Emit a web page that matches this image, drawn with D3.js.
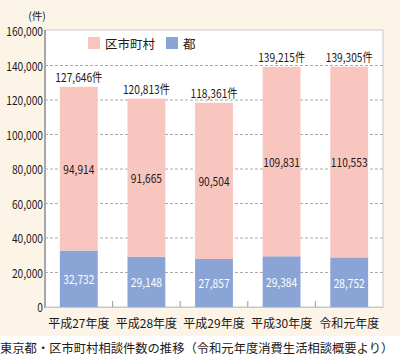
<!DOCTYPE html>
<html>
<head>
<meta charset="utf-8">
<script src="https://cdn.jsdelivr.net/npm/d3@7"></script>
<style>
  body { margin: 0; background: #fff; }
  text { font-family: "Noto Sans CJK JP", sans-serif; fill: #231815; }
</style>
</head>
<body>
<div id="chart"></div>
<script>
const categories = ["平成27年度", "平成28年度", "平成29年度", "平成30年度", "令和元年度"];
const cityValues = [94914, 91665, 90504, 109831, 110553];
const metroValues = [32732, 29148, 27857, 29384, 28752];
const totalValues = [127646, 120813, 118361, 139215, 139305];
const yTicks = [0, 20000, 40000, 60000, 80000, 100000, 120000, 140000, 160000];
const seriesNames = ["区市町村", "都"];

const W = 400, H = 358;
const plotLeft = 45, plotRight = 383, plotTop = 31, plotBottom = 307;
const pink = "#f8c6bf", blue = "#8aa4d6";
const fmt = d3.format(",");

const svg = d3.select("#chart").append("svg")
  .attr("width", W).attr("height", H);

// cream background
svg.append("rect").attr("width", W).attr("height", 336).attr("fill", "#fdf4e8");

const x = d3.scaleBand().domain(categories).range([plotLeft, plotRight])
  .paddingInner(0.44).paddingOuter(0.22);
const y = d3.scaleLinear().domain([0, 160000]).range([plotBottom, plotTop]);

// plot area
svg.append("rect").attr("x", plotLeft).attr("y", y(160000) - 1)
  .attr("width", plotRight - plotLeft).attr("height", plotBottom - y(160000) + 1)
  .attr("fill", "#fff").attr("stroke", "#c8c8c8");

// grid
svg.append("g").selectAll("line")
  .data(yTicks.filter(d => d > 0 && d < 160000))
  .join("line")
  .attr("x1", plotLeft).attr("x2", plotRight)
  .attr("y1", d => y(d)).attr("y2", d => y(d))
  .attr("stroke", "#aaa").attr("stroke-dasharray", "3,2");

// condensed number text helper
function numText(g, tx, ty, str, anchor, fill) {
  g.append("text")
    .attr("transform", `translate(${tx},${ty}) scale(0.85,1)`)
    .attr("text-anchor", anchor)
    .attr("dominant-baseline", "central")
    .attr("font-size", 12)
    .style("fill", fill || "#231815")
    .text(str);
}

// y tick labels
const yg = svg.append("g");
yTicks.forEach(t => numText(yg, 43, y(t), fmt(t), "end"));
svg.append("text").attr("x", 37).attr("y", 15).attr("text-anchor", "middle")
  .attr("dominant-baseline", "central").attr("font-size", 10.5).text("(件)");

// bars
const bars = svg.append("g");
bars.selectAll("rect.metro").data(categories).join("rect")
  .attr("x", d => x(d)).attr("width", x.bandwidth())
  .attr("y", (d, i) => y(metroValues[i]))
  .attr("height", (d, i) => y(0) - y(metroValues[i]))
  .attr("fill", blue);
bars.selectAll("rect.city").data(categories).join("rect")
  .attr("x", d => x(d)).attr("width", x.bandwidth())
  .attr("y", (d, i) => y(metroValues[i] + cityValues[i]))
  .attr("height", (d, i) => y(metroValues[i]) - y(metroValues[i] + cityValues[i]))
  .attr("fill", pink);

// labels
const lg = svg.append("g");
categories.forEach((c, i) => {
  const cx = x(c) + x.bandwidth() / 2;
  numText(lg, cx, y(metroValues[i] / 2), fmt(metroValues[i]), "middle", "#fff");
  numText(lg, cx, y(metroValues[i] + cityValues[i] / 2), fmt(cityValues[i]), "middle");
  numText(lg, cx, y(totalValues[i]) - 10, fmt(totalValues[i]) + "件", "middle");
});

// axes lines
svg.append("line").attr("x1", plotLeft).attr("x2", plotLeft).attr("y1", y(160000) - 1).attr("y2", plotBottom + 1)
  .attr("stroke", "#a8a8a8").attr("stroke-width", 2);
svg.append("line").attr("x1", plotLeft).attr("x2", plotRight).attr("y1", plotBottom + 0.5).attr("y2", plotBottom + 0.5)
  .attr("stroke", "#c8c8c8");
svg.append("g").selectAll("line").data(categories.slice(1)).join("line")
  .attr("x1", d => x(d) - x.step() * x.paddingInner() / 2)
  .attr("x2", d => x(d) - x.step() * x.paddingInner() / 2)
  .attr("y1", plotBottom - 6).attr("y2", plotBottom)
  .attr("stroke", "#999");

// x labels
svg.append("g").selectAll("text").data(categories).join("text")
  .attr("x", d => x(d) + x.bandwidth() / 2).attr("y", 322)
  .attr("text-anchor", "middle").attr("dominant-baseline", "central")
  .attr("font-size", 12).text(d => d);

// legend
const legend = svg.append("g");
[[88, pink], [166, blue]].forEach(([lx, col], i) => {
  legend.append("rect").attr("x", lx).attr("y", 37).attr("width", 12).attr("height", 12).attr("fill", col);
  legend.append("text").attr("x", lx + 17).attr("y", 43).attr("dominant-baseline", "central")
    .attr("font-size", 12.5).text(seriesNames[i]);
});

// caption
svg.append("text").attr("x", 0).attr("y", 348).attr("dominant-baseline", "central")
  .attr("font-size", 12.3).text("東京都・区市町村相談件数の推移（令和元年度消費生活相談概要より）");
</script>
</body>
</html>
